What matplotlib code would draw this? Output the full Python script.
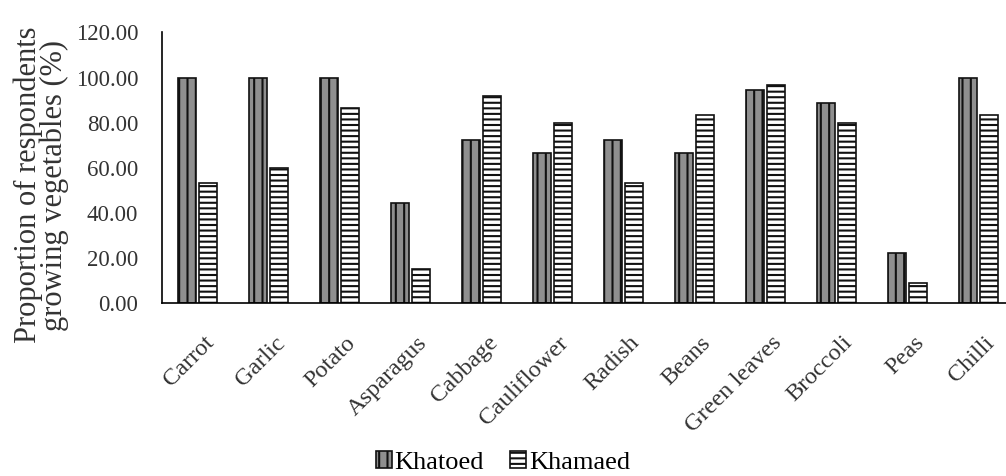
import numpy as np
import matplotlib.pyplot as plt
import matplotlib as mpl

plt.rcParams['font.family'] = ['Liberation Serif', 'DejaVu Serif']
mpl.rcParams['hatch.linewidth'] = 1.5

vegetables = ['Carrot', 'Garlic', 'Potato', 'Asparagus', 'Cabbage', 'Cauliflower',
              'Radish', 'Beans', 'Green leaves', 'Broccoli', 'Peas', 'Chilli']
khatoed = [100.0, 100.0, 100.0, 44.44, 72.22, 66.67, 72.22, 66.67, 94.44, 88.89, 22.22, 100.0]
khamaed = [53.33, 60.0, 86.67, 15.0, 91.67, 80.0, 53.33, 83.33, 96.67, 80.0, 9.0, 83.33]
y_ticks = [0, 20, 40, 60, 80, 100, 120]

fig = plt.figure(figsize=(10.06, 4.76), dpi=100)
ax = fig.add_axes([0.161, 0.363, 0.847, 0.569])

x = np.arange(len(vegetables))
w = 0.26
ax.bar(x - 0.15, khatoed, w, facecolor='#8f8f8f', edgecolor='#111111', hatch='||',
       linewidth=1.2, label='Khatoed')
ax.bar(x + 0.15, khamaed, w, facecolor='white', edgecolor='#111111', hatch='---',
       linewidth=1.2, label='Khamaed')

ax.set_xlim(-0.5, len(vegetables) - 0.5)
ax.set_ylim(0, 120)
ax.set_yticks(y_ticks)
ax.set_yticklabels([f'{v:.2f}' for v in y_ticks], fontsize=16.5, color='#333333')
ax.set_xticks(x + 0.08)
ax.set_xticklabels(vegetables, rotation=45, ha='right', rotation_mode='anchor',
                   fontsize=17.5, color='#333333')
ax.tick_params(axis='y', length=0, pad=17)
ax.tick_params(axis='x', length=0, pad=21)
for side in ['top', 'right']:
    ax.spines[side].set_visible(False)
ax.spines['left'].set_linewidth(1.2)
ax.spines['bottom'].set_linewidth(1.2)

fig.text(0.041, 0.611, 'Proportion of respondents\ngrowing vegetables (%)', rotation=90,
         ha='center', va='center', fontsize=22, color='#333333', linespacing=0.85)

fig.legend(loc='center', bbox_to_anchor=(0.5, 0.028), ncol=2, frameon=False,
           fontsize=19, handlelength=0.6, handleheight=0.6, handletextpad=0.1,
           columnspacing=1.0)

fig.savefig('out.png', dpi=100)
plt.close(fig)
